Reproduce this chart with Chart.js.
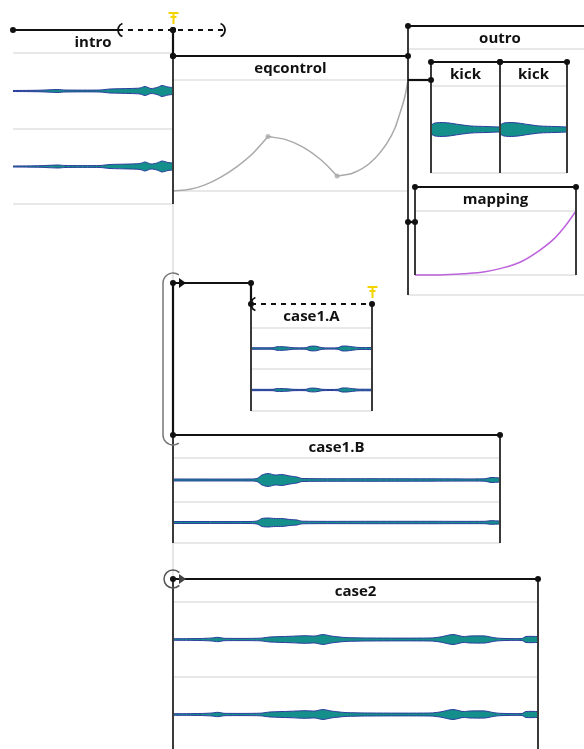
<!DOCTYPE html>
<html>
<head>
<meta charset="utf-8">
<script src="https://cdn.jsdelivr.net/npm/chart.js@4.4.1/dist/chart.umd.min.js"></script>
<style>
    html, body { margin: 0; padding: 0; background: #fff; }
</style>
</head>
<body>
<canvas id="timeline" width="584" height="749"></canvas>
<script>
// clips on the timeline (x in seconds, 0 = start of eqcontrol), y in lane units
const clipNames  = ['intro', 'eqcontrol', 'outro', 'kick', 'kick', 'mapping', 'case1.A', 'case1.B', 'case2'];
const clipStart  = [-16, 0, 23.5, 25.8, 32.7, 24.2, 7.8, 0, 0];
const clipEnd    = [0, 23.5, 41.9, 32.7, 39.4, 40.3, 19.9, 32.7, 36.5];
const clipTop    = [30, 56, 26, 62, 62, 187, 304, 435, 579];
const clipHeader = [53, 80, 49, 86, 86, 211, 328, 458, 602];
const clipBottom = [204, 191, 295, 173, 173, 275, 411, 543, 752];
const edgeLeft   = [false, true, true, true, true, true, true, true, true];
const edgeRight  = [true, true, false, true, true, true, true, true, true];

// channel separators inside clips
const rowClip = [0, 6, 7, 8];
const rowY    = [129, 369, 502, 677];

// loop regions (dashed), connectors, markers
const loopStart = [-5.5, 7.8];
const loopEnd   = [5.2, 19.9];
const loopLane  = [30, 304];
const loopCloseBracket = [true, false];
const markerT    = [0, 19.9];
const markerLane = [30, 304];

const linkT0 = [0, 23.5, 23.5, 0, 7.8, 0];
const linkY0 = [30, 80, 222, 283, 283, 283];
const linkT1 = [0, 25.8, 24.2, 7.8, 7.8, 0];
const linkY1 = [56, 80, 222, 283, 304, 435];
const linkDot0 = [true, false, true, true, false, false];
const linkDot1 = [true, true, true, true, false, false];

const groupLoopT = 0, groupLoopTop = 283, groupLoopBottom = 435;
const case2LoopT = 0, case2LoopLane = 579;

// waveform envelopes (time relative to clip start, half-amplitude)
const introT = [0, 2.7, 4.5, 5.2, 8.7, 9.7, 11.7, 12.7, 13.2, 13.8, 14.4, 14.9, 15.5, 16];
const introA = [0.5, 0.8, 1.5, 1, 1, 2, 2.5, 3, 4.5, 2.5, 3.5, 5.5, 4, 3.5];
const kickT = [0, 0.1, 0.4, 1, 1.8, 2.8, 4, 5.5, 6.8];
const kickA = [2, 5, 6.5, 7, 6.5, 5, 3.5, 3, 2.5];
const case1AT = [0, 2.2, 2.6, 3.1, 3.6, 4.2, 5.5, 5.9, 6.5, 7.1, 8.7, 9.1, 9.6, 10.3, 10.8, 12.1];
const case1AA = [0.8, 0.8, 1.8, 1.8, 1.5, 0.8, 0.8, 2.2, 2.3, 0.8, 0.8, 2.4, 2.4, 1.5, 1, 1];
const case1AA2 = [0.7, 0.7, 1.4, 1.4, 1.2, 0.7, 0.7, 1.8, 1.8, 0.7, 0.7, 2, 2, 1.2, 0.8, 0.8];
const case1BT = [0, 7.5, 8.4, 8.9, 9.5, 10.2, 10.9, 11.7, 12.4, 12.9, 20, 26, 31.2, 31.8, 32.7];
const case1BA = [1, 1, 1.5, 5, 6.5, 5, 5.5, 4, 3, 1.5, 1.3, 1.2, 1.2, 2.5, 2];
const case1BA2 = [1, 1, 1.5, 4, 4.5, 4, 4, 3, 2.5, 1.3, 1.2, 1.2, 1.2, 1.8, 1.5];
const case2T = [0, 2.7, 3.9, 4.5, 5.1, 8.7, 9.7, 11.7, 13.2, 14.2, 15, 15.8, 17.2, 19.7, 25.7, 26.7, 28, 29, 29.7, 31.2, 32, 32.7, 34.9, 35.3, 36.5];
const case2A = [0.8, 1, 1.5, 2.2, 1.2, 1.3, 2.5, 3.2, 3.8, 3.5, 5, 3.5, 2, 1.5, 1.5, 2.5, 5, 3, 3.5, 3.5, 2, 1.2, 1, 3, 3];

const waveClip = [0, 3, 4, 6, 7, 8];
const waveTimes = [introT, kickT, kickT, case1AT, case1BT, case2T];
const waveAmps = [[introA, introA], [kickA], [kickA], [case1AA, case1AA2], [case1BA, case1BA2], [case2A, case2A]];

// automation curves (value 0..1 between baseline and header line), one list per segment
const eqSegT = [
    [0, 1.7, 3.2, 4.7, 6.4, 8, 9.5],
    [9.5, 11.2, 13, 14.7, 15.7, 16.4],
    [16.4, 18, 19.7, 21.4, 22.2, 22.7, 23.2, 23.5]
];
const eqSegV = [
    [0, 0.015, 0.055, 0.12, 0.22, 0.34, 0.49],
    [0.49, 0.465, 0.396, 0.288, 0.203, 0.135],
    [0.135, 0.162, 0.252, 0.432, 0.568, 0.703, 0.856, 1]
];
const mapT = [24.2, 26.7, 29.2, 31.2, 32.7, 34.7, 36.7, 38.2, 39.3, 40.3];
const mapV = [0, 0, 0.02, 0.05, 0.1, 0.2, 0.39, 0.58, 0.78, 1];

const BLACK = '#111111', EDGE = '#3a3a3a', GRID = '#d2d2d2';

function seg(x0, y0, x1, y1, color, width, order, dash) {
    return {
        data: [{ x: x0, y: y0 }, { x: x1, y: y1 }],
        borderColor: color, borderWidth: width, borderDash: dash || [],
        pointRadius: 0, fill: false, order: order, tension: 0
    };
}

const datasets = [];
const dots = [];

// time-zero cursor
datasets.push(seg(0, 30, 0, 749, '#d6d6d6', 1.2, 9));

clipNames.forEach((name, i) => {
    const s = clipStart[i], e = clipEnd[i];
    datasets.push(seg(s, clipHeader[i], e, clipHeader[i], GRID, 1.2, 8));
    datasets.push(seg(s, clipBottom[i], e, clipBottom[i], GRID, 1.2, 8));
    if (edgeLeft[i]) datasets.push(seg(s, clipTop[i], s, clipBottom[i], EDGE, 2, 3));
    if (edgeRight[i]) datasets.push(seg(e, clipTop[i], e, clipBottom[i], EDGE, 2, 3));

    let solidEnd = e;
    loopStart.forEach((ls, j) => {
        if (loopLane[j] === clipTop[i] && ls >= s && ls < e) solidEnd = ls;
    });
    if (solidEnd > s) datasets.push(seg(s, clipTop[i], solidEnd, clipTop[i], BLACK, 2.2, 2));
    dots.push({ x: s, y: clipTop[i] }, { x: e, y: clipTop[i] });
});

// the intro clip's right edge continues from its top down to its bottom
datasets.push(seg(0, clipTop[0], 0, clipBottom[0], EDGE, 2, 3));

rowClip.forEach((c, k) => {
    datasets.push(seg(clipStart[c], rowY[k], clipEnd[c], rowY[k], GRID, 1.2, 8));
});

loopStart.forEach((ls, j) => {
    datasets.push(seg(ls, loopLane[j], loopEnd[j], loopLane[j], BLACK, 2, 2, [5, 5]));
});

linkT0.forEach((t0, k) => {
    datasets.push(seg(t0, linkY0[k], linkT1[k], linkY1[k], BLACK, 2.2, 2));
    if (linkDot0[k]) dots.push({ x: t0, y: linkY0[k] });
    if (linkDot1[k]) dots.push({ x: linkT1[k], y: linkY1[k] });
});

// waveforms
waveClip.forEach((c, w) => {
    const bounds = [clipHeader[c]];
    rowClip.forEach((rc, k) => { if (rc === c) bounds.push(rowY[k]); });
    bounds.push(clipBottom[c]);
    const amps = waveAmps[w];
    amps.forEach((amp, ch) => {
        const lane = (bounds[ch] + bounds[ch + 1]) / 2;
        const times = waveTimes[w];
        datasets.push({
            data: times.map((t, i) => ({ x: clipStart[c] + t, y: lane - amp[i] })),
            borderColor: '#2c3d9c', borderWidth: 1, pointRadius: 0, fill: false,
            tension: 0.25, order: 4
        });
        datasets.push({
            data: times.map((t, i) => ({ x: clipStart[c] + t, y: lane + amp[i] })),
            borderColor: '#2c3d9c', borderWidth: 1, pointRadius: 0,
            fill: '-1', backgroundColor: '#148f8c',
            tension: 0.25, order: 4
        });
        datasets.push(seg(clipStart[c], lane, clipStart[c] + times[times.length - 1], lane,
            c === 3 || c === 4 ? 'rgba(200,220,220,0.8)' : '#2c3d9c', 1, 4));
    });
});

// automation
function autoY(c, v) {
    return clipBottom[c] - v * (clipBottom[c] - clipHeader[c]);
}
eqSegT.forEach((ts, k) => {
    datasets.push({
        data: ts.map((t, i) => ({ x: t, y: autoY(1, eqSegV[k][i]) })),
        borderColor: '#a9a9a9', borderWidth: 1.5, pointRadius: 0, fill: false,
        cubicInterpolationMode: 'monotone', order: 5
    });
});
datasets.push({
    data: [eqSegT[1], eqSegT[2]].map((ts, k) => ({ x: ts[0], y: autoY(1, eqSegV[k + 1][0]) })),
    showLine: false, pointRadius: 2.5, pointBackgroundColor: '#bdbdbd',
    pointBorderWidth: 0, order: 5
});
datasets.push({
    data: mapT.map((t, i) => ({ x: t, y: autoY(5, mapV[i]) })),
    borderColor: '#bd62dc', borderWidth: 1.5, pointRadius: 0, fill: false,
    cubicInterpolationMode: 'monotone', order: 5
});

datasets.push({
    data: dots, showLine: false, pointRadius: 3,
    pointBackgroundColor: BLACK, pointBorderWidth: 0, order: 0
});

const decor = {
    id: 'decor',
    afterDatasetsDraw(chart) {
        const { ctx, scales: { x, y } } = chart;
        ctx.save();

        // clip titles
        ctx.font = 'bold 15px "Open Sans"';
        ctx.fillStyle = BLACK;
        ctx.textAlign = 'center';
        ctx.textBaseline = 'middle';
        clipNames.forEach((n, i) => {
            ctx.fillText(n, x.getPixelForValue((clipStart[i] + clipEnd[i]) / 2),
                y.getPixelForValue((clipTop[i] + clipHeader[i]) / 2) + 1);
        });

        // loop brackets
        ctx.strokeStyle = BLACK;
        ctx.lineWidth = 1.8;
        loopStart.forEach((ls, j) => {
            const py = y.getPixelForValue(loopLane[j]);
            const p0 = x.getPixelForValue(ls);
            ctx.beginPath();
            ctx.arc(p0 + 7, py, 7, 0.62 * Math.PI, 1.38 * Math.PI);
            ctx.stroke();
            if (loopCloseBracket[j]) {
                const p1 = x.getPixelForValue(loopEnd[j]);
                ctx.beginPath();
                ctx.arc(p1 - 7, py, 7, -0.38 * Math.PI, 0.38 * Math.PI);
                ctx.stroke();
            }
        });

        // group loop bracket
        const gx = x.getPixelForValue(groupLoopT);
        const gt = y.getPixelForValue(groupLoopTop), gb = y.getPixelForValue(groupLoopBottom);
        ctx.strokeStyle = '#777';
        ctx.lineWidth = 1.5;
        ctx.beginPath();
        ctx.arc(gx, gt, 10, -0.3 * Math.PI, Math.PI, true);
        ctx.lineTo(gx - 10, gb);
        ctx.arc(gx, gb, 10, Math.PI, 0.3 * Math.PI, true);
        ctx.stroke();

        // case2 loop circle
        const cx = x.getPixelForValue(case2LoopT), cy = y.getPixelForValue(case2LoopLane);
        ctx.strokeStyle = '#555';
        ctx.beginPath();
        ctx.arc(cx, cy, 9, 0.25 * Math.PI, 1.75 * Math.PI);
        ctx.stroke();

        // arrows
        [[gx, gt, BLACK], [cx, cy, '#444']].forEach(([ax, ay, col]) => {
            ctx.fillStyle = col;
            ctx.beginPath();
            ctx.moveTo(ax + 6, ay - 5);
            ctx.lineTo(ax + 13, ay);
            ctx.lineTo(ax + 6, ay + 5);
            ctx.closePath();
            ctx.fill();
        });

        // yellow markers
        ctx.strokeStyle = '#f4d400';
        ctx.lineWidth = 2;
        markerT.forEach((t, k) => {
            const mx = Math.round(x.getPixelForValue(t)) + 0.5;
            const my = y.getPixelForValue(markerLane[k]);
            ctx.beginPath();
            ctx.moveTo(mx, my - 6); ctx.lineTo(mx, my - 17);
            ctx.moveTo(mx - 5, my - 17); ctx.lineTo(mx + 5, my - 17);
            ctx.moveTo(mx - 3, my - 13); ctx.lineTo(mx + 3, my - 13);
            ctx.stroke();
        });

        ctx.restore();
    }
};

new Chart(document.getElementById('timeline').getContext('2d'), {
    type: 'line',
    data: { datasets: datasets },
    options: {
        responsive: false,
        animation: false,
        events: [],
        layout: { padding: 0, autoPadding: false },
        scales: {
            x: { type: 'linear', min: -17.3, max: 41.1, display: false },
            y: { type: 'linear', min: 0, max: 749, reverse: true, display: false }
        },
        plugins: {
            legend: { display: false },
            tooltip: { enabled: false }
        }
    },
    plugins: [decor]
});
</script>
</body>
</html>
